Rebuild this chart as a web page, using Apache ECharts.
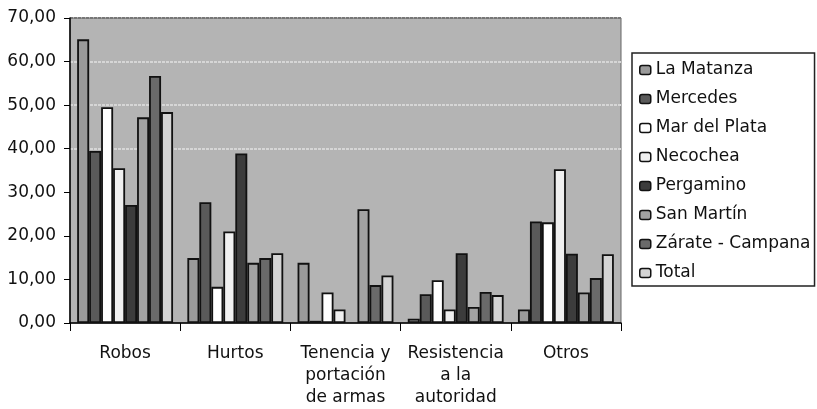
<!DOCTYPE html>
<html>
<head>
<meta charset="utf-8">
<script src="https://cdn.jsdelivr.net/npm/echarts@6/dist/echarts.min.js"></script>
<style>
html,body{margin:0;padding:0;background:#fff;}
#chart{width:817px;height:409px;}
</style>
</head>
<body>
<div id="chart"></div>
<script>
const categories = ['Robos', 'Hurtos', 'Tenencia y\nportación\nde armas', 'Resistencia\na la\nautoridad', 'Otros'];
const seriesNames = ['La Matanza', 'Mercedes', 'Mar del Plata', 'Necochea', 'Pergamino', 'San Martín', 'Zárate - Campana', 'Total'];
const laMatanza   = [65.1, 14.9, 13.8, 1.0, 3.1];
const mercedes    = [39.5, 27.7, 0.5, 6.6, 23.3];
const marDelPlata = [49.5, 8.3, 7.0, 9.8, 23.1];
const necochea    = [35.5, 21.0, 3.1, 3.1, 35.3];
const pergamino   = [27.1, 38.9, null, 16.0, 15.9];
const sanMartin   = [47.2, 13.8, 26.1, 3.7, 7.0];
const zarate      = [56.7, 14.9, 8.7, 7.1, 10.3];
const total       = [48.4, 16.0, 10.9, 6.4, 15.8];
const yTicks = [0, 10, 20, 30, 40, 50, 60, 70];

const seriesData = [laMatanza, mercedes, marDelPlata, necochea, pergamino, sanMartin, zarate, total];
const colors = ['#9a9a9a', '#5a5a5a', '#ffffff', '#f0f0f0', '#3c3c3c', '#a2a2a2', '#6a6a6a', '#d4d4d4'];
const FONT = 'DejaVu Sans';

const chart = echarts.init(document.getElementById('chart'), null, {renderer: 'canvas'});
chart.setOption({
  backgroundColor: '#ffffff',
  animation: false,
  grid: {
    left: 70, right: 196, top: 18, bottom: 86,
    show: true, backgroundColor: '#b4b4b4', borderColor: '#666', borderWidth: 1
  },
  legend: {
    orient: 'vertical',
    left: 632, top: 53,
    padding: [7, 4, 3, 7],
    itemGap: 9,
    itemWidth: 11, itemHeight: 9,
    borderColor: '#222', borderWidth: 1.5,
    backgroundColor: '#fff',
    itemStyle: {borderColor: '#111', borderWidth: 1.5},
    textStyle: {fontFamily: FONT, fontSize: 17, color: '#111', lineHeight: 20},
    data: seriesNames
  },
  xAxis: {
    type: 'category',
    data: categories,
    boundaryGap: true,
    axisLine: {lineStyle: {color: '#000', width: 1.5}},
    axisTick: {show: true, length: 8, lineStyle: {color: '#000', width: 1}},
    axisLabel: {fontFamily: FONT, fontSize: 17, color: '#111', lineHeight: 22, margin: 20, interval: 0}
  },
  yAxis: {
    type: 'value',
    min: yTicks[0], max: yTicks[yTicks.length - 1], interval: 10,
    axisLine: {show: true, lineStyle: {color: '#000', width: 1.5}},
    axisTick: {show: true, length: 6, lineStyle: {color: '#000', width: 1}},
    axisLabel: {
      fontFamily: FONT, fontSize: 17, color: '#111', margin: 14,
      formatter: v => v.toFixed(2).replace('.', ',')
    },
    splitLine: {
      show: true, showMinLine: true, showMaxLine: true,
      lineStyle: {
        color: ['rgba(0,0,0,0)', 'rgba(0,0,0,0)', 'rgba(0,0,0,0)', 'rgba(0,0,0,0)', '#d6d6d6', '#d6d6d6', '#d6d6d6', '#777'],
        width: 2, type: [3, 1]
      }
    }
  },
  series: seriesNames.map((name, i) => ({
    name: name,
    type: 'bar',
    data: seriesData[i],
    barGap: '0%',
    barCategoryGap: '13%',
    itemStyle: {color: colors[i], borderColor: '#111', borderWidth: 1.8}
  }))
});
</script>
</body>
</html>
